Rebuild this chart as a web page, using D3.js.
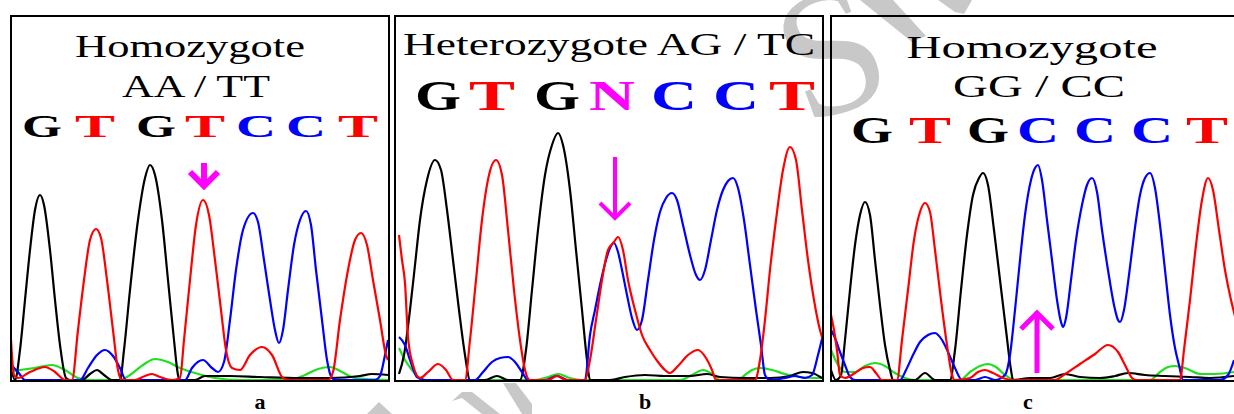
<!DOCTYPE html>
<html>
<head>
<meta charset="utf-8">
<script src="https://cdn.jsdelivr.net/npm/d3@7"></script>
<style>
body { margin: 0; background: #fff; }
svg { display: block; }
</style>
</head>
<body>
<svg id="chart"></svg>
<script>
const width = 1234, height = 414;

// chromatogram traces, [scan, signal]
const aBlack = [[2,8],[5,0],[10,30],[15,80],[20,130],[25,170],[30,185],[34,175],[40,130],[45,80],[50,35],[56,2],[60,0],[72,0],[80,6],[87,10],[94,5],[102,0],[110,0],[114,30],[120,90],[128,160],[135,202],[140,215],[145,205],[152,160],[158,100],[164,40],[168,5],[170,0],[185,0],[195,4],[220,4],[250,3],[290,2],[320,2],[350,4],[362,6],[378,5]];
const aRed = [[1,40],[4,5],[8,2],[20,8],[35,13],[45,8],[55,0],[62,0],[68,50],[74,100],[80,140],[86,151],[91,142],[97,100],[103,50],[108,10],[112,0],[125,0],[135,4],[142,6],[150,3],[162,0],[170,2],[174,40],[180,100],[186,155],[193,180],[199,165],[205,120],[211,70],[216,30],[222,12],[230,10],[240,25],[252,33],[262,25],[273,2],[280,0],[318,0],[323,8],[330,60],[338,110],[345,140],[351,147],[357,135],[363,100],[370,60],[376,25],[378,20]];
const aBlue = [[1,15],[8,8],[15,0],[70,0],[78,12],[87,25],[95,30],[103,24],[110,12],[116,0],[175,0],[182,12],[193,20],[202,12],[208,8],[214,18],[220,60],[226,110],[233,150],[243,167],[248,158],[254,120],[260,80],[265,50],[269,37],[273,50],[278,90],[284,135],[290,160],[296,169],[301,155],[306,110],[312,60],[317,20],[322,2],[326,0],[365,0],[370,4],[375,25],[378,40]];
const aGreen = [[1,8],[10,10],[25,12],[42,15],[55,10],[68,2],[80,0],[110,0],[120,5],[133,15],[145,21],[158,18],[170,12],[185,7],[205,2],[230,0],[280,0],[295,5],[308,11],[320,13],[332,8],[345,2],[378,0]];

const bBlack = [[5,6],[10,25],[16,70],[21,115],[26,160],[33,200],[41,220],[47,210],[53,170],[59,120],[65,70],[71,25],[76,0],[91,0],[103,4],[114,0],[126,0],[132,30],[138,90],[144,150],[151,205],[158,235],[164,247],[169,235],[176,190],[182,130],[188,70],[193,20],[196,0],[216,0],[231,3],[251,5],[271,4],[296,4],[313,6],[326,3],[351,2],[376,2],[396,4],[409,8],[418,7],[428,2]];
const bRed = [[5,145],[8,120],[11,97],[14,43],[19,15],[26,2],[34,8],[44,16],[52,10],[59,0],[71,0],[76,40],[82,100],[88,160],[95,205],[102,220],[108,205],[114,150],[120,90],[126,40],[131,10],[136,0],[154,0],[163,4],[172,0],[191,0],[196,20],[202,60],[208,100],[214,130],[220,138],[224,143],[229,130],[234,100],[241,70],[248,45],[256,30],[264,18],[271,10],[276,7],[284,14],[294,25],[304,30],[312,22],[318,10],[322,0],[361,0],[366,20],[371,60],[376,110],[382,160],[389,210],[396,233],[402,220],[408,170],[414,120],[420,80],[426,50],[429,40]];
const bBlue = [[5,43],[11,35],[16,20],[23,3],[31,0],[81,0],[89,8],[98,18],[106,22],[114,23],[121,18],[128,8],[134,0],[151,0],[163,4],[174,0],[191,0],[196,45],[201,70],[206,95],[212,120],[217,134],[220,137],[224,128],[228,110],[233,85],[238,62],[243,50],[248,60],[254,100],[260,140],[266,168],[272,182],[278,187],[283,180],[289,155],[296,125],[302,105],[306,100],[311,110],[317,140],[323,170],[329,190],[334,199],[339,202],[344,192],[350,160],[356,115],[362,70],[367,35],[371,5],[376,0],[391,2],[401,4],[411,2],[418,5],[424,25],[429,45]];
const bGreen = [[5,32],[11,20],[18,10],[24,3],[31,0],[141,0],[154,3],[164,6],[176,2],[186,0],[286,0],[298,5],[309,10],[318,6],[326,0],[344,0],[351,5],[358,10],[366,12],[378,10],[391,6],[406,3],[421,2],[429,2]];

const cBlack = [[1,10],[6,0],[11,5],[15,40],[20,90],[25,135],[30,165],[35,178],[40,165],[45,120],[50,75],[55,35],[60,10],[63,0],[85,0],[95,7],[105,0],[120,0],[125,30],[131,90],[137,145],[143,185],[149,202],[153,207],[158,195],[164,150],[170,100],[176,50],[181,10],[183,0],[200,2],[220,2],[235,6],[250,3],[270,2],[285,4],[298,7],[315,5],[335,4],[360,3],[380,2],[404,4]];
const cRed = [[1,65],[4,50],[7,30],[10,5],[15,2],[25,7],[33,12],[40,13],[46,7],[52,0],[67,0],[72,40],[78,90],[84,140],[90,168],[95,177],[100,168],[105,130],[111,80],[117,35],[122,5],[125,0],[140,2],[148,8],[155,10],[163,7],[173,2],[182,0],[225,0],[235,6],[250,16],[265,26],[278,35],[288,28],[295,15],[302,2],[306,0],[350,0],[354,30],[360,80],[366,135],[372,180],[378,202],[383,190],[389,150],[395,110],[401,80],[406,60]];
const cBlue = [[1,50],[5,42],[10,28],[15,15],[20,3],[25,0],[70,0],[76,10],[83,25],[90,38],[98,45],[105,47],[112,40],[118,28],[125,12],[132,0],[145,0],[155,3],[165,0],[175,5],[180,25],[185,70],[190,120],[195,165],[201,200],[205,212],[208,215],[212,200],[217,160],[222,120],[227,80],[231,58],[233,53],[236,62],[241,100],[246,140],[252,175],[257,195],[262,202],[267,188],[272,150],[278,110],[284,75],[288,60],[290,58],[294,70],[299,105],[304,145],[310,185],[315,202],[320,207],[325,192],[330,155],[335,110],[340,65],[345,32],[349,15],[353,0],[390,0],[398,5],[404,20]];
const cGreen = [[1,30],[8,15],[15,8],[25,8],[35,14],[45,17],[55,14],[65,7],[75,2],[85,0],[130,0],[140,8],[150,14],[158,16],[166,13],[175,5],[185,0],[320,0],[330,8],[338,13],[345,14],[355,12],[370,6],[385,6],[404,8]];

// base calls and their scan positions
const aBases = ['G','T','G','T','C','C','T'];
const aBasePos = [32, 85, 146, 195, 246, 296, 348];
const bBases = ['G','T','G','N','C','C','T'];
const bBasePos = [44, 98, 163, 218, 280, 342, 398];
const cBases = ['G','T','G','C','C','C','T'];
const cBasePos = [42, 100, 158, 208, 265, 322, 377];

// variant position (scan) marked with an arrow
const aSnp = 194, bSnp = 221, cSnp = 207;

const aTitle = ['Homozygote', 'AA / TT'];
const bTitle = ['Heterozygote AG / TC'];
const cTitle = ['Homozygote', 'GG / CC'];
const panelLabels = ['a', 'b', 'c'];

const baseColor = { G: '#000000', A: '#00cc00', T: '#ff0000', C: '#0000ff', N: '#ff00ff' };
const traceColor = { green: '#1ee01e', black: '#000000', blue: '#0000ff', red: '#ff0000' };

const panels = [
  { label: panelLabels[0], x0: 10, w: 379, traces: { green: aGreen, black: aBlack, blue: aBlue, red: aRed },
    bases: aBases, basePos: aBasePos, baseY: 137, baseSize: 32, baseW: 40,
    title: aTitle, titleRows: [{ cx: 190, y: 57, len: 230 }, { cx: 196, y: 97, len: 148 }],
    snp: aSnp, arrow: { dir: 'down', y1: 163, y2: 186, head: 14, sw: 6 }, labelX: 260 },
  { label: panelLabels[1], x0: 394, w: 429, traces: { green: bGreen, black: bBlack, blue: bBlue, red: bRed },
    bases: bBases, basePos: bBasePos, baseY: 110, baseSize: 42, baseW: 46,
    title: bTitle, titleRows: [{ cx: 609, y: 55, len: 412 }],
    snp: bSnp, arrow: { dir: 'down', y1: 157, y2: 218, head: 15, sw: 4 }, labelX: 645 },
  { label: panelLabels[2], x0: 830, w: 410, traces: { green: cGreen, black: cBlack, blue: cBlue, red: cRed },
    bases: cBases, basePos: cBasePos, baseY: 143, baseSize: 38, baseW: 42,
    title: cTitle, titleRows: [{ cx: 1032, y: 58, len: 251 }, { cx: 1039, y: 97, len: 172 }],
    snp: cSnp, arrow: { dir: 'up', y1: 373, y2: 313, head: 16, sw: 5 }, labelX: 1028 }
];

const frameTop = 16, frameBottom = 381;
const y = d3.scaleLinear().domain([0, 250]).range([380, 130]);

const svg = d3.select('#chart').attr('width', width).attr('height', height);
const defs = svg.append('defs');

// watermark (light grey, behind everything)
const wm = svg.append('g').attr('fill', '#c8c8c8');
wm.append('text').attr('transform', 'translate(831,52) rotate(-20)')
  .attr('text-anchor', 'middle').attr('y', 60)
  .attr('font-family', 'Liberation Serif').attr('font-size', 180).text('S');
wm.append('path').attr('d', 'M367,414 L379,402 L392,414 Z');
wm.append('path').attr('d', 'M452,401 L462,392 L472,392 L500,414 L482,414 L462,398 Z');
wm.append('path').attr('d', 'M503,383 L516,383 L532,404 L532,414 L522,414 Z');
wm.append('path').attr('d', 'M860,0 L893,0 L926,36 L912,42 Z');
wm.append('path').attr('d', 'M938,0 L972,0 L964,14 L955,12 Z');

panels.forEach((p, i) => {
  const x = d3.scaleLinear().domain([0, p.w]).range([p.x0, p.x0 + p.w]);
  const g = svg.append('g').attr('class', 'panel');

  const clipId = 'clip' + i;
  defs.append('clipPath').attr('id', clipId).append('rect')
    .attr('x', p.x0 + 1).attr('y', frameTop).attr('width', p.w - 1).attr('height', frameBottom - frameTop);

  // title
  p.title.forEach((t, k) => {
    const r = p.titleRows[k];
    g.append('text').attr('x', r.cx).attr('y', r.y).attr('text-anchor', 'middle')
      .attr('font-family', 'Liberation Serif').attr('font-size', 31)
      .attr('textLength', r.len).attr('lengthAdjust', 'spacingAndGlyphs')
      .text(t);
  });

  // base calls
  g.selectAll('text.base').data(p.bases).join('text').attr('class', 'base')
    .attr('x', (d, k) => x(p.basePos[k]) - p.baseW / 2).attr('y', p.baseY)
    .attr('font-family', 'Liberation Serif').attr('font-weight', 'bold').attr('font-size', p.baseSize)
    .attr('textLength', p.baseW).attr('lengthAdjust', 'spacingAndGlyphs')
    .attr('fill', d => baseColor[d]).text(d => d);

  // traces
  const line = d3.line().x(d => x(d[0])).y(d => y(d[1])).curve(d3.curveMonotoneX);
  const tg = g.append('g').attr('clip-path', `url(#${clipId})`);
  Object.entries(p.traces).forEach(([name, pts]) => {
    tg.append('path').datum(pts).attr('d', line)
      .attr('fill', 'none').attr('stroke', traceColor[name]).attr('stroke-width', 2.2)
      .attr('stroke-linejoin', 'round');
  });

  // arrow at the variant
  const ax = x(p.snp), a = p.arrow;
  const s = a.dir === 'down' ? -1 : 1;
  g.append('path')
    .attr('d', `M${ax},${a.y1} L${ax},${a.y2 + s * 3} M${ax - a.head},${a.y2 + s * a.head} L${ax},${a.y2} L${ax + a.head},${a.y2 + s * a.head}`)
    .attr('fill', 'none').attr('stroke', '#ff00ff').attr('stroke-width', a.sw);

  // frame
  g.append('rect').attr('x', p.x0 + 1).attr('y', frameTop).attr('width', p.w - 1).attr('height', frameBottom - frameTop)
    .attr('fill', 'none').attr('stroke', '#000').attr('stroke-width', 2);

  // panel letter
  svg.append('text').attr('x', p.labelX).attr('y', 409).attr('text-anchor', 'middle')
    .attr('font-family', 'Liberation Serif').attr('font-weight', 'bold').attr('font-size', 22)
    .text(p.label);
});
</script>
</body>
</html>
